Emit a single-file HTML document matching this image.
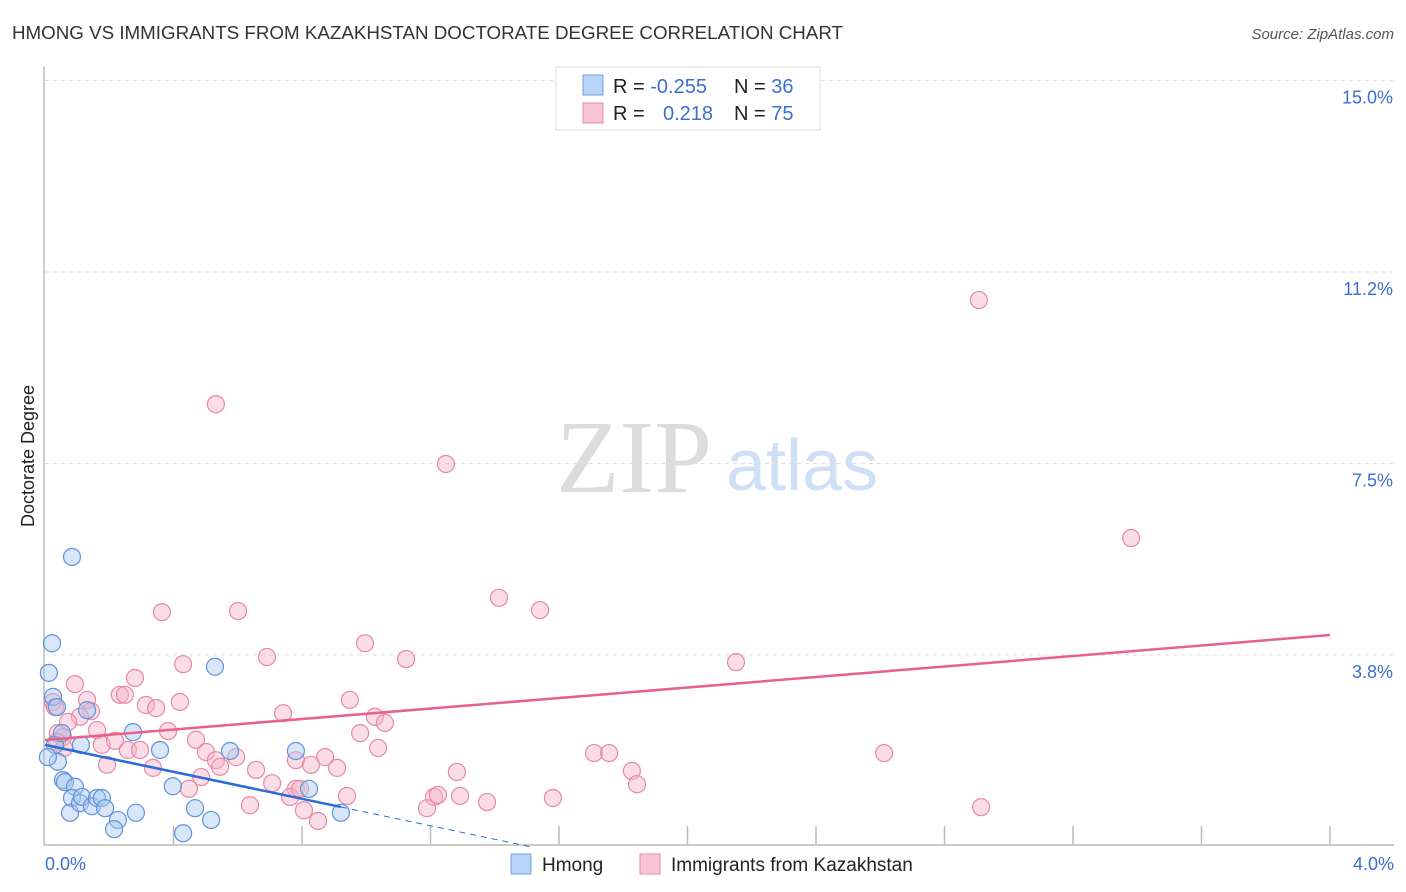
<!DOCTYPE html>
<html><head><meta charset="utf-8"><style>
body{margin:0;background:#fff;font-family:"Liberation Sans",sans-serif;}
svg{display:block}
</style></head><body>
<svg width="1406" height="892">
<text x="12" y="39" font-size="18" fill="#333" textLength="831" lengthAdjust="spacingAndGlyphs">HMONG VS IMMIGRANTS FROM KAZAKHSTAN DOCTORATE DEGREE CORRELATION CHART</text>
<text x="1394" y="39" font-size="15" fill="#555" font-style="italic" text-anchor="end">Source: ZipAtlas.com</text>
<g>
<text x="634" y="492" font-family="Liberation Serif,serif" font-size="104" fill="#dcdcdc" text-anchor="middle">ZIP</text>
<text x="802" y="490" font-size="72" fill="#cfe0f5" text-anchor="middle">atlas</text>
</g>
<g id="grid"></g>
<line x1="44" y1="67" x2="44" y2="845" stroke="#bbb" stroke-width="1.5"/>
<line x1="44" y1="845" x2="1394" y2="845" stroke="#bbb" stroke-width="1.5"/>
<g id="ticks"></g>
<text transform="translate(34,456) rotate(-90)" font-size="18" fill="#222" text-anchor="middle">Doctorate Degree</text>
<text x="45" y="870" font-size="18" fill="#3b6fd4">0.0%</text>
<text x="1394" y="870" font-size="18" fill="#3b6fd4" text-anchor="end">4.0%</text>
<g id="pts"></g>
<g id="trend"></g>
<g>
<rect x="556" y="67" width="264" height="63" fill="#fff" stroke="#ddd"/>
<rect x="583" y="75" width="20" height="20" fill="#b8d3f5" stroke="#6fa0dd"/>
<rect x="583" y="103" width="20" height="20" fill="#f8c5d5" stroke="#e88aa8"/>
<text x="613" y="93" font-size="20" fill="#222">R = <tspan fill="#3b6fd4">-0.255</tspan><tspan x="734">N = </tspan><tspan fill="#3b6fd4">36</tspan></text>
<text x="613" y="120" font-size="20" fill="#222">R = <tspan x="663" fill="#3b6fd4">0.218</tspan><tspan x="734">N = </tspan><tspan fill="#3b6fd4">75</tspan></text>
</g>
<g>
<rect x="511" y="854" width="20" height="20" fill="#b8d3f5" stroke="#6fa0dd"/>
<text x="542" y="871" font-size="19" fill="#222">Hmong</text>
<rect x="640" y="854" width="20" height="20" fill="#f8c5d5" stroke="#e88aa8"/>
<text x="671" y="871" font-size="19" fill="#222">Immigrants from Kazakhstan</text>
</g>
</svg>
<script>
const yTickValues=[3.75,7.5,11.25,15.0];
const yTickLabels=["3.8%","7.5%","11.2%","15.0%"];
const xTickValues=[0.4,0.8,1.2,1.6,2.0,2.4,2.8,3.2,3.6,4.0];
const hmongX=[0.084,0.022,0.012,0.025,0.037,0.131,0.031,0.112,0.053,0.040,0.009,0.056,0.062,0.093,0.084,0.078,0.109,0.115,0.146,0.162,0.177,0.187,0.227,0.215,0.274,0.358,0.398,0.283,0.430,0.467,0.517,0.529,0.576,0.781,0.822,0.921];
const hmongY=[5.67,3.98,3.40,2.93,2.73,2.67,1.99,1.99,2.22,1.66,1.75,1.30,1.26,1.17,0.95,0.66,0.85,0.97,0.79,0.95,0.95,0.75,0.52,0.34,2.24,1.89,1.18,0.66,0.26,0.75,0.52,3.52,1.87,1.87,1.13,0.66];
const kazX=[0.532,1.248,2.907,3.381,1.413,1.541,0.364,0.601,0.996,0.430,0.691,1.124,2.151,0.093,0.280,0.233,0.249,0.131,0.025,0.031,0.143,0.314,0.346,0.420,0.949,0.741,1.027,1.058,0.109,0.072,0.162,0.383,0.040,0.056,0.981,0.470,0.177,0.218,0.258,0.296,0.501,0.532,0.595,0.781,0.872,1.037,1.709,1.756,2.612,0.193,0.336,0.545,0.828,0.909,0.657,0.486,0.707,1.282,1.827,1.843,0.781,0.763,0.794,1.211,1.223,1.292,0.940,1.581,1.376,0.638,0.806,0.850,1.189,2.914,0.448,0.037,0.059];
const kazY=[8.66,7.49,10.70,6.04,4.87,4.63,4.59,4.61,3.98,3.57,3.71,3.67,3.61,3.18,3.30,2.97,2.97,2.87,2.83,2.73,2.65,2.77,2.71,2.83,2.87,2.61,2.54,2.42,2.54,2.44,2.28,2.26,2.22,2.14,2.22,2.09,1.99,2.07,1.89,1.89,1.85,1.69,1.75,1.69,1.75,1.93,1.83,1.83,1.83,1.60,1.54,1.56,1.60,1.54,1.50,1.36,1.24,1.46,1.48,1.22,1.13,0.97,1.13,0.97,1.01,0.99,0.99,0.95,0.87,0.81,0.71,0.50,0.75,0.77,1.13,2.05,1.93];
const hmongTrend=[1.99,-1.32];
const kazTrend=[2.085,0.514];
const NS="http://www.w3.org/2000/svg";
const sx=v=>45+v*321.25, sy=v=>846.5-v*51.07;
function mk(tag,attrs,parent){const e=document.createElementNS(NS,tag);for(const k in attrs)e.setAttribute(k,attrs[k]);parent.appendChild(e);return e;}
const grid=document.getElementById('grid'),ticks=document.getElementById('ticks'),pts=document.getElementById('pts'),trend=document.getElementById('trend');
yTickValues.forEach((v,i)=>{
 const l=mk('line',{x1:45,x2:1394,y1:sy(v),y2:sy(v),stroke:'#ddd','stroke-dasharray':'4,4'},grid);
 
 
 const t=mk('text',{x:1393,y:sy(v)+23,'font-size':18,fill:'#3b6fd4','text-anchor':'end'},grid);
 t.textContent=yTickLabels[i];
 
 
});
xTickValues.forEach(v=>{
 const l=mk('line',{x1:sx(v),x2:sx(v),y1:826,y2:845,stroke:'#bbb','stroke-width':1.5},ticks);
 
 
});
function dots(xs,ys,fill,stroke,name){
 xs.forEach((x,i)=>{
  const c=mk('circle',{cx:sx(x),cy:sy(ys[i]),r:8.5,fill:fill,'fill-opacity':0.45,stroke:stroke,'stroke-width':1.2},pts);
  
  
 });
}
dots(kazX,kazY,'#f5b3c8','#e888a7','kazakhstan-point');
dots(hmongX,hmongY,'#a9c8f0','#5f93db','hmong-point');
const pk=mk('line',{x1:sx(0),y1:sy(kazTrend[0]),x2:sx(4),y2:sy(kazTrend[0]+4*kazTrend[1]),stroke:'#e8608c','stroke-width':2.5},trend);


const hmax=Math.max(...hmongX);
const hz=-hmongTrend[0]/hmongTrend[1];
const hb=mk('line',{x1:sx(0),y1:sy(hmongTrend[0]),x2:sx(hmax),y2:sy(hmongTrend[0]+hmax*hmongTrend[1]),stroke:'#2b6bd6','stroke-width':2.5},trend);


const hd=mk('line',{x1:sx(hmax),y1:sy(hmongTrend[0]+hmax*hmongTrend[1]),x2:sx(hz),y2:sy(0),stroke:'#2b6bd6','stroke-width':1,'stroke-dasharray':'6,5'},trend);


</script>
</body></html>
